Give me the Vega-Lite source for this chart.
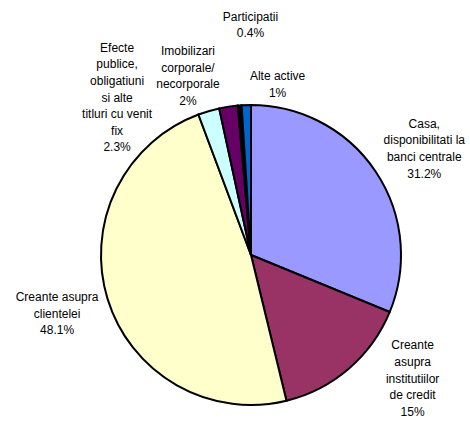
{
  "$schema": "https://vega.github.io/schema/vega-lite/v6.json",
  "width": 438,
  "height": 332,
  "autosize": {"type": "none"},
  "padding": {"left": 32, "right": 0, "top": 89, "bottom": 0},
  "background": "white",
  "config": {"view": {"stroke": null}, "text": {"font": "Liberation Sans", "fontSize": 12, "lineHeight": 16.6, "color": "#000000"}},
  "data": {
    "values": [
      {"k": 1, "category": "Casa, disponibilitati la banci centrale", "value": 31.2, "label": "Casa,\ndisponibilitati la\nbanci centrale\n31.2%"},
      {"k": 2, "category": "Creante asupra institutiilor de credit", "value": 15, "label": "Creante\nasupra\ninstitutiilor\nde credit\n15%"},
      {"k": 3, "category": "Creante asupra clientelei", "value": 48.1, "label": "Creante asupra\nclientelei\n48.1%"},
      {"k": 4, "category": "Efecte publice, obligatiuni si alte titluri cu venit fix", "value": 2.3, "label": "Efecte\npublice,\nobligatiuni\nsi alte\ntitluri cu venit\nfix\n2.3%"},
      {"k": 5, "category": "Imobilizari corporale/necorporale", "value": 2, "label": "Imobilizari\ncorporale/\nnecorporale\n2%"},
      {"k": 6, "category": "Participatii", "value": 0.4, "label": "Participatii\n0.4%"},
      {"k": 7, "category": "Alte active", "value": 1, "label": "Alte active\n1%"}
    ]
  },
  "encoding": {
    "theta": {"field": "value", "type": "quantitative", "stack": true},
    "order": {"field": "k", "type": "quantitative"}
  },
  "layer": [
    {
      "mark": {"type": "arc", "outerRadius": 150, "stroke": "#000000", "strokeWidth": 2},
      "encoding": {
        "color": {
          "field": "category",
          "type": "nominal",
          "sort": null,
          "scale": {
            "domain": ["Casa, disponibilitati la banci centrale", "Creante asupra institutiilor de credit", "Creante asupra clientelei", "Efecte publice, obligatiuni si alte titluri cu venit fix", "Imobilizari corporale/necorporale", "Participatii", "Alte active"],
            "range": ["#9999FF", "#993366", "#FFFFCC", "#CCFFFF", "#660066", "#000000", "#0066CC"]
          },
          "legend": null
        }
      }
    },
    {
      "mark": {"type": "text", "radius": 205, "dx": 3, "dy": -17, "align": "center", "baseline": "middle", "lineBreak": "\n"},
      "encoding": {"text": {"condition": {"test": "datum.k == 1", "field": "label"}, "value": ""}}
    },
    {
      "mark": {"type": "text", "radius": 205, "dx": 28, "dy": -65, "align": "center", "baseline": "middle", "lineBreak": "\n"},
      "encoding": {"text": {"condition": {"test": "datum.k == 2", "field": "label"}, "value": ""}}
    },
    {
      "mark": {"type": "text", "radius": 205, "dx": 2, "dy": -18, "align": "center", "baseline": "middle", "lineBreak": "\n"},
      "encoding": {"text": {"condition": {"test": "datum.k == 3", "field": "label"}, "value": ""}}
    },
    {
      "mark": {"type": "text", "radius": 170, "dx": -86, "dy": -44, "align": "center", "baseline": "middle", "lineBreak": "\n"},
      "encoding": {"text": {"condition": {"test": "datum.k == 4", "field": "label"}, "value": ""}}
    },
    {
      "mark": {"type": "text", "radius": 180, "dx": -36, "dy": -26, "align": "center", "baseline": "middle", "lineBreak": "\n"},
      "encoding": {"text": {"condition": {"test": "datum.k == 5", "field": "label"}, "value": ""}}
    },
    {
      "mark": {"type": "text", "radius": 232, "dx": 17, "dy": -7, "align": "center", "baseline": "middle", "lineBreak": "\n"},
      "encoding": {"text": {"condition": {"test": "datum.k == 6", "field": "label"}, "value": ""}}
    },
    {
      "mark": {"type": "text", "radius": 172, "dx": 32, "dy": -7, "align": "center", "baseline": "middle", "lineBreak": "\n"},
      "encoding": {"text": {"condition": {"test": "datum.k == 7", "field": "label"}, "value": ""}}
    }
  ]
}
